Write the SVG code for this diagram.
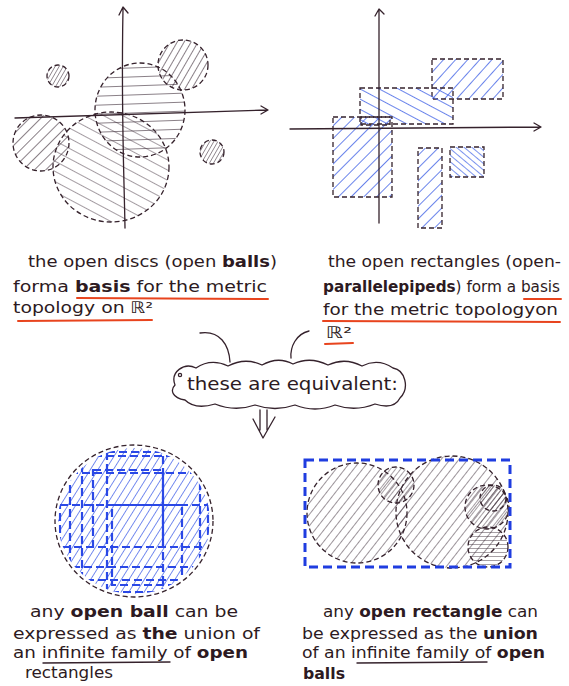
<svg xmlns="http://www.w3.org/2000/svg" width="569" height="686" viewBox="0 0 569 686">
<style>
.ink{fill:none;stroke:#35222c;stroke-width:1.3;stroke-linecap:round;stroke-linejoin:round}
.dash{stroke:#35222c;stroke-width:1.3;stroke-dasharray:5 3}
.bdash{fill:none;stroke:#2a48e6;stroke-width:2.2;stroke-dasharray:8 4}
.red{fill:none;stroke:#e8441e;stroke-width:2;stroke-linecap:round}
.ul{fill:none;stroke:#35222c;stroke-width:1.4;stroke-linecap:round}
text{font-family:"DejaVu Sans","Liberation Sans",sans-serif;font-size:16px;fill:#2d1a22}
.b{font-weight:bold}
</style>
<defs>
<pattern id="k30" patternUnits="userSpaceOnUse" width="6" height="10" patternTransform="rotate(30)"><line x1="0" y1="0" x2="0" y2="10" stroke="#3a2a35" stroke-width="1.2"/></pattern>
<pattern id="k30d" patternUnits="userSpaceOnUse" width="3.5" height="10" patternTransform="rotate(30)"><line x1="0" y1="0" x2="0" y2="10" stroke="#3a2a35" stroke-width="1"/></pattern>
<pattern id="k45" patternUnits="userSpaceOnUse" width="8" height="10" patternTransform="rotate(45)"><line x1="0" y1="0" x2="0" y2="10" stroke="#3a2a35" stroke-width="1.2"/></pattern>
<pattern id="kh" patternUnits="userSpaceOnUse" width="9" height="10" patternTransform="rotate(88)"><line x1="0" y1="0" x2="0" y2="10" stroke="#3a2a35" stroke-width="1.2"/></pattern>
<pattern id="khs" patternUnits="userSpaceOnUse" width="4" height="10" patternTransform="rotate(90)"><line x1="0" y1="0" x2="0" y2="10" stroke="#3a2a35" stroke-width="0.9"/></pattern>
<pattern id="kbs" patternUnits="userSpaceOnUse" width="9" height="10" patternTransform="rotate(-62)"><line x1="0" y1="0" x2="0" y2="10" stroke="#4a3a45" stroke-width="1"/></pattern>
<pattern id="k40" patternUnits="userSpaceOnUse" width="7" height="10" patternTransform="rotate(38)"><line x1="0" y1="0" x2="0" y2="10" stroke="#3a2a35" stroke-width="1"/></pattern>
<pattern id="k40d" patternUnits="userSpaceOnUse" width="4" height="10" patternTransform="rotate(38)"><line x1="0" y1="0" x2="0" y2="10" stroke="#3a2a35" stroke-width="0.9"/></pattern>
<pattern id="b45" patternUnits="userSpaceOnUse" width="9" height="10" patternTransform="rotate(45)"><line x1="0" y1="0" x2="0" y2="10" stroke="#4f6ee8" stroke-width="1.7"/></pattern>
<pattern id="b50" patternUnits="userSpaceOnUse" width="9" height="10" patternTransform="rotate(42)"><line x1="0" y1="0" x2="0" y2="10" stroke="#4f6ee8" stroke-width="1.7"/></pattern>
<pattern id="bbs" patternUnits="userSpaceOnUse" width="9" height="10" patternTransform="rotate(-62)"><line x1="0" y1="0" x2="0" y2="10" stroke="#4f6ee8" stroke-width="1.7"/></pattern>
<pattern id="bbs2" patternUnits="userSpaceOnUse" width="5" height="10" patternTransform="rotate(-50)"><line x1="0" y1="0" x2="0" y2="10" stroke="#4f6ee8" stroke-width="1.5"/></pattern>
<pattern id="b30" patternUnits="userSpaceOnUse" width="6.5" height="10" patternTransform="rotate(32)"><line x1="0" y1="0" x2="0" y2="10" stroke="#3f5fe8" stroke-width="1.4"/></pattern>
</defs>

<g id="discs-plot">
<circle cx="58" cy="76" r="11" fill="url(#k30d)" class="dash"/>
<circle cx="183" cy="65" r="25" fill="url(#k30)" class="dash"/>
<ellipse cx="140" cy="110" rx="45" ry="47" fill="url(#kh)" class="dash"/>
<circle cx="41" cy="143" r="28" fill="url(#k45)" class="dash"/>
<ellipse cx="111" cy="167" rx="58" ry="55" fill="url(#kbs)" class="dash"/>
<circle cx="212" cy="152" r="12" fill="url(#k30d)" class="dash"/>
<path class="ink" d="M15 118 L267 110 M261 106 L268 110 L261 114"/>
<path class="ink" d="M125 228 C124 170 121 110 123 9 M119 15 L123 7 L128 13"/>
</g>

<g id="rects-plot">
<rect x="432" y="59" width="71" height="40" fill="url(#b50)" class="dash"/>
<rect x="360" y="88" width="93" height="36" fill="url(#bbs)" class="dash"/>
<rect x="333" y="117" width="59" height="80" fill="url(#b45)" class="dash"/>
<rect x="418" y="148" width="24" height="80" fill="url(#b45)" class="dash"/>
<rect x="450" y="147" width="34" height="30" fill="url(#bbs2)" class="dash"/>
<rect x="361" y="117" width="29" height="8" fill="none" class="dash"/>
<path class="ink" d="M290 129 L540 127 M534 123 L541 127 L534 131"/>
<path class="ink" d="M379 223 L379 11 M375 16 L379 9 L384 14"/>
</g>

<g id="text-discs">
<text x="28" y="267" textLength="249" lengthAdjust="spacingAndGlyphs">the open discs (open <tspan class="b">balls</tspan>)</text>
<text x="13" y="292" textLength="254" lengthAdjust="spacingAndGlyphs">forma <tspan class="b">basis</tspan> for the metric</text>
<text x="13" y="313" textLength="140" lengthAdjust="spacingAndGlyphs">topology on ℝ²</text>
<path class="red" d="M77 298 L268 299 M18 321 L152 320"/>
</g>

<g id="text-rects">
<text x="328" y="267" textLength="233" lengthAdjust="spacingAndGlyphs">the open rectangles (open-</text>
<text x="323" y="292" textLength="237" lengthAdjust="spacingAndGlyphs"><tspan class="b">parallelepipeds</tspan>) form a basis</text>
<text x="323" y="315" textLength="235" lengthAdjust="spacingAndGlyphs">for the metric topologyon</text>
<text x="326" y="338" textLength="26" lengthAdjust="spacingAndGlyphs">ℝ²</text>
<path class="red" d="M524 299 L561 299 M323 321 L560 322 M325 344 L353 343"/>
</g>

<g id="connectors">
<path class="ink" d="M200 333 C220 330 229 345 230 362"/>
<path class="ink" d="M309 331 C296 334 290 347 291 358"/>
<path class="ink" d="M260 410 L260 430 M267 410 L267 430 M253 419 L263 438 L275 417"/>
</g>

<g id="equivalent">
<path class="ink" d="M175 385 C170 372 184 362 196 368 Q211 358 228 366 Q245 357 262 365 Q278 356 293 364 Q310 356 328 365 Q345 357 362 366 Q378 358 393 368 C405 370 410 388 400 398 Q394 410 375 404 Q355 412 335 405 Q315 413 295 405 Q275 412 255 405 Q235 412 215 404 Q195 410 185 400 C172 398 170 390 175 385 Z"/>
<circle cx="180" cy="375" r="1.6" class="ink"/>
<text x="187" y="390" textLength="211" lengthAdjust="spacingAndGlyphs" style="font-size:17px">these are equivalent:</text>
</g>

<g id="ball-of-rects">
<clipPath id="ballclip"><ellipse cx="134" cy="521" rx="76" ry="73"/></clipPath>
<ellipse cx="134" cy="521" rx="76" ry="73" fill="url(#b30)" clip-path="url(#ballclip)"/>
<g clip-path="url(#ballclip)">
<rect x="82" y="456" width="118" height="124" class="bdash"/>
<rect x="70" y="473" width="138" height="94" class="bdash"/>
<rect x="107" y="452" width="56" height="140" class="bdash"/>
<rect x="60" y="505" width="152" height="42" class="bdash"/>
<rect x="112" y="505" width="70" height="80" class="bdash"/>
<rect x="93" y="470" width="70" height="77" class="bdash"/>
</g>
<ellipse cx="134" cy="521" rx="79" ry="76" fill="none" class="dash"/>
</g>

<g id="rect-of-balls">
<circle cx="357" cy="513" r="50" fill="url(#k40)" class="dash"/>
<circle cx="452" cy="512" r="56" fill="url(#k40)" class="dash"/>
<circle cx="396" cy="485" r="18" fill="url(#k40d)" class="dash"/>
<circle cx="487" cy="507" r="22" fill="url(#k40d)" class="dash"/>
<circle cx="493" cy="498" r="13" fill="url(#k40d)" class="dash"/>
<circle cx="488" cy="547" r="20" fill="url(#khs)" class="dash"/>
<rect x="305" y="460" width="205" height="107" fill="none" stroke="#1f3de0" stroke-width="3" stroke-dasharray="9 5"/>
</g>

<g id="text-ball">
<text x="30" y="617" textLength="208" lengthAdjust="spacingAndGlyphs">any <tspan class="b">open ball</tspan> can be</text>
<text x="13" y="639" textLength="247" lengthAdjust="spacingAndGlyphs">expressed as <tspan class="b">the</tspan> union of</text>
<text x="13" y="658" textLength="235" lengthAdjust="spacingAndGlyphs">an infinite family of <tspan class="b">open</tspan></text>
<text x="25" y="678" textLength="88" lengthAdjust="spacingAndGlyphs">rectangles</text>
<path class="ul" d="M43 663 L170 662"/>
</g>

<g id="text-rect">
<text x="323" y="617" textLength="215" lengthAdjust="spacingAndGlyphs">any <tspan class="b">open rectangle</tspan> can</text>
<text x="302" y="639" textLength="236" lengthAdjust="spacingAndGlyphs">be expressed as the <tspan class="b">union</tspan></text>
<text x="302" y="658" textLength="243" lengthAdjust="spacingAndGlyphs">of an infinite family of <tspan class="b">open</tspan></text>
<text x="303" y="679" textLength="42" lengthAdjust="spacingAndGlyphs" class="b">balls</text>
<path class="ul" d="M357 663 L487 662"/>
</g>
</svg>
